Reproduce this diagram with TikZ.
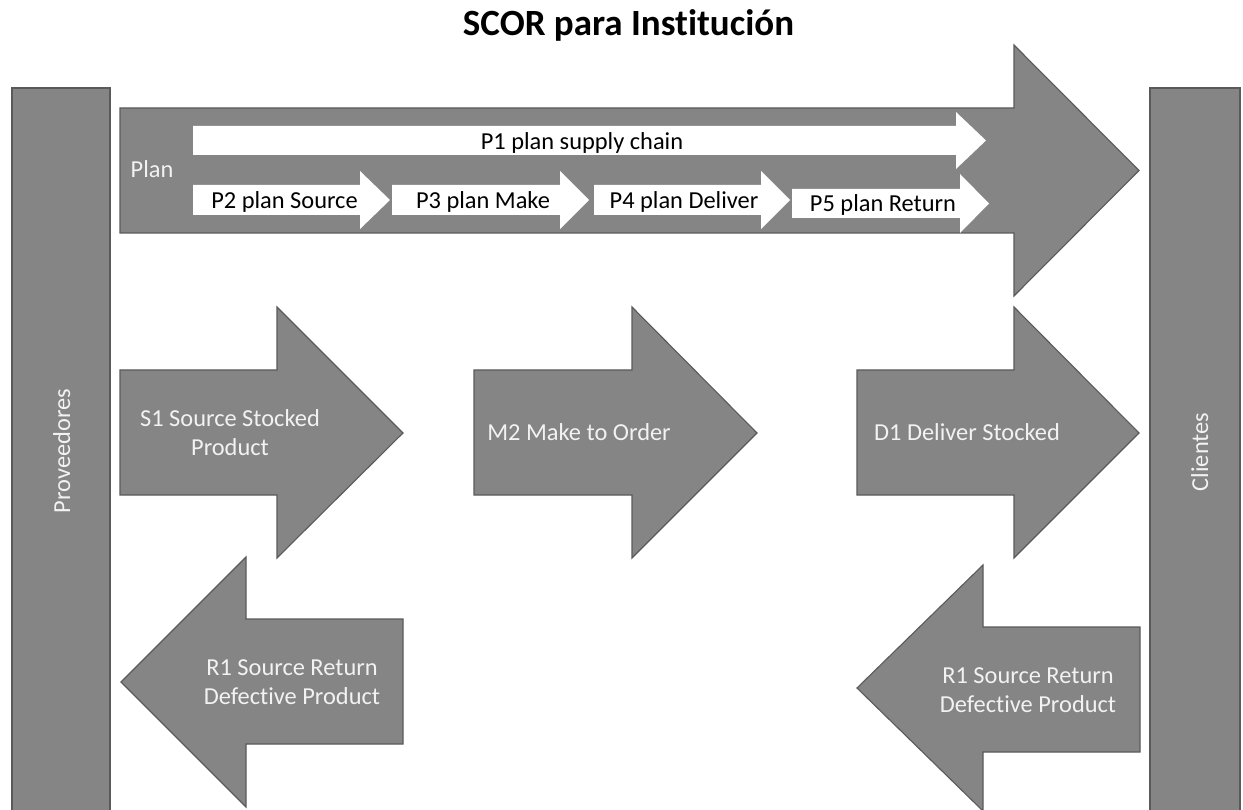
\documentclass[tikz,border=0pt]{standalone}
\usepackage{fontspec}
\setmainfont{Carlito}[Ligatures=NoCommon]
\definecolor{shapegray}{RGB}{133,133,133}
\definecolor{edgegray}{RGB}{90,90,90}
\definecolor{labelwhite}{RGB}{242,242,242}
\begin{document}
\begin{tikzpicture}[x=1pt,y=-1pt,
  block/.style={fill=shapegray, draw=edgegray, line width=1.1pt, line join=miter},
  inarrow/.style={fill=white},
  darklabel/.style={font=\fontsize{24.4}{29}\selectfont, text=labelwhite, inner sep=0pt, align=center, anchor=base},
  lightlabel/.style={font=\fontsize{24.4}{29}\selectfont, text=black, inner sep=0pt, anchor=base},
]
\useasboundingbox[fill=white] (0,0) rectangle (1243,810);

% title
\node[font=\fontsize{37}{42}\selectfont\bfseries, inner sep=0pt, anchor=base] (title) at (628.5,36) {SCOR para Institución};

% side bars
\draw[block] (12,88) rectangle (110,816);
\node[darklabel, rotate=90] (prov) at (70,451) {Proveedores};
\draw[block] (1150,88) rectangle (1240,816);
\node[darklabel, rotate=90] (cli) at (1208,452) {Clientes};

% plan arrow
\draw[block] (120,108) -- (1014,108) -- (1014,45) -- (1139,170.5) -- (1014,296)
  -- (1014,233) -- (120,233) -- cycle;
\node[darklabel] (plan) at (152,178) {Plan};

% P1
\fill[inarrow] (193,126) -- (956,126) -- (956,112) -- (986,140.5) -- (956,169)
  -- (956,155) -- (193,155) -- cycle;
\node[lightlabel] (p1) at (582,150) {P1 plan supply chain};

% P2..P5
\fill[inarrow] (193,185) -- (360,185) -- (360,171) -- (390,200) -- (360,229) -- (360,215) -- (193,215) -- cycle;
\node[lightlabel] (p2) at (284.5,208.3) {P2 plan Source};
\fill[inarrow] (392,185) -- (560,185) -- (560,171) -- (589,200) -- (560,229) -- (560,215) -- (392,215) -- cycle;
\node[lightlabel] (p3) at (483,208.3) {P3 plan Make};
\fill[inarrow] (594,185) -- (761,185) -- (761,171) -- (790,200) -- (761,229) -- (761,215) -- (594,215) -- cycle;
\node[lightlabel] (p4) at (684,208.3) {P4 plan Deliver};
\fill[inarrow] (792,189) -- (960,189) -- (960,174) -- (989,203.5) -- (960,233) -- (960,218) -- (792,218) -- cycle;
\node[lightlabel] (p5) at (883,211.5) {P5 plan Return};

% source, make, deliver
\draw[block] (120,370) -- (277,370) -- (277,307) -- (403,433) -- (277,558) -- (277,495) -- (120,495) -- cycle;
\node[darklabel] (s1) at (230,455.7) {S1 Source Stocked\\Product};
\draw[block] (474,370) -- (632,370) -- (632,307) -- (757,433) -- (632,558) -- (632,495) -- (474,495) -- cycle;
\node[darklabel] (m2) at (579,440) {M2 Make to Order};
\draw[block] (857,370) -- (1014,370) -- (1014,307) -- (1139,433) -- (1014,558) -- (1014,495) -- (857,495) -- cycle;
\node[darklabel] (d1) at (967,440.7) {D1 Deliver Stocked};

% return arrows
\draw[block] (403,619) -- (246,619) -- (246,557) -- (121,682) -- (246,807) -- (246,744) -- (403,744) -- cycle;
\node[darklabel] (r1a) at (292,704) {R1 Source Return\\Defective Product};
\draw[block] (1140,627) -- (983,627) -- (983,565) -- (857,688) -- (983,811) -- (983,752) -- (1140,752) -- cycle;
\node[darklabel] (r1b) at (1028,712) {R1 Source Return\\Defective Product};
\end{tikzpicture}
\end{document}
